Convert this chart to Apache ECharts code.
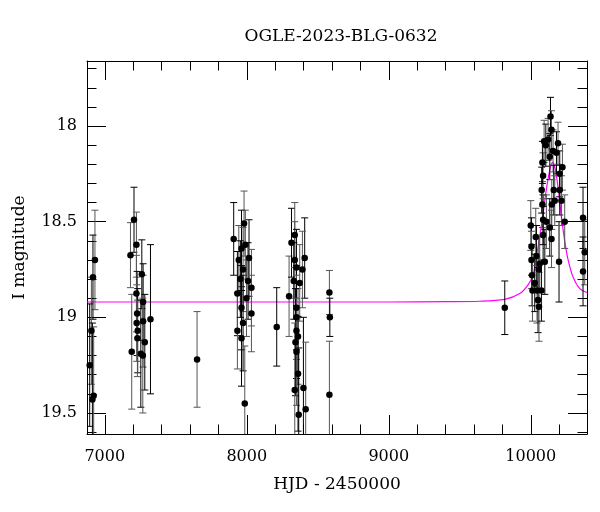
<!DOCTYPE html>
<html>
<head>
<meta charset="utf-8">
<script src="https://cdn.jsdelivr.net/npm/echarts@6/dist/echarts.min.js"></script>
<style>html,body{margin:0;padding:0;background:#fff;}#c{width:600px;height:512px;}</style>
</head>
<body>
<div id="c"></div>
<script>
// ---- data ----
const titleText = 'OGLE-2023-BLG-0632';
const xName = 'HJD - 2450000';
const yName = 'I magnitude';
const xMajor = [7000, 8000, 9000, 10000];
const xMinor = [7000,7200,7400,7600,7800,8000,8200,8400,8600,8800,9000,9200,9400,9600,9800,10000,10200];
const yMajor = [18, 18.5, 19, 19.5];
const yMinor = [17.7,17.8,17.9,18,18.1,18.2,18.3,18.4,18.5,18.6,18.7,18.8,18.9,19,19.1,19.2,19.3,19.4,19.5,19.6];

const hjd = [
  6931,6917,6906,6894,6922,6913,
  7181,7206,7223,7261,7223,7228,7225,7232,7230,7270,7270,7282,7190,7254,7268,7322,7650,
  7908,7981,7963,7944,8016,7974,8009,8033,7934,7998,7963,8033,7974,7934,7963,7986,7955,7990,
  8211,
  8298,8315,8338,8408,8338,8350,8392,8331,8373,8350,8350,8350,8361,8343,8350,8361,8338,8399,8415,8366,
  8582,8585,8582,
  9817,
  10000,10005,10005,10009,10012,10028,10035,10040,10044,10051,10058,10075,10063,10087,10082,10077,10087,10082,10094,10106,10122,10139,10146,10134,10157,10162,10148,10134,10146,10099,10169,10181,10192,10204,10223,10199,10239,10204,10216,10368,10380,10368,10110,10087,10056
];
const mag = [
  18.70,18.79,19.07,19.25,19.41,19.43,
  18.675,18.49,18.62,18.775,18.876,18.98,19.03,19.07,19.11,18.92,19.02,19.13,19.18,19.19,19.20,19.01,19.22,
  18.59,18.51,18.64,18.70,18.69,18.75,18.81,18.845,18.876,18.90,18.95,18.98,19.03,19.07,19.11,19.45,18.80,18.62,
  19.05,
  18.89,18.61,18.57,18.69,18.70,18.74,18.75,18.81,18.82,18.95,19.00,19.07,19.10,19.13,19.18,19.295,19.38,19.37,19.48,19.51,
  18.87,19.00,19.405,
  18.95,
  18.52,18.63,18.70,18.78,18.86,18.82,18.58,18.68,18.86,18.91,18.945,18.86,18.72,18.49,18.41,18.335,18.26,18.19,18.08,18.10,18.07,17.95,18.02,18.16,18.13,18.335,18.41,18.53,18.59,18.71,18.39,18.14,18.09,18.25,18.215,18.71,18.50,18.335,18.39,18.48,18.66,18.76,18.50,18.57,18.75
];
const err = [
  0.26,0.22,0.28,0.32,0.36,0.40,
  0.17,0.17,0.17,0.18,0.20,0.22,0.20,0.22,0.20,0.20,0.24,0.25,0.30,0.28,0.30,0.39,0.25,
  0.19,0.17,0.20,0.18,0.20,0.22,0.20,0.20,0.22,0.20,0.22,0.20,0.25,0.20,0.25,0.30,0.20,0.18,
  0.205,
  0.21,0.18,0.17,0.21,0.20,0.20,0.20,0.20,0.20,0.22,0.22,0.25,0.25,0.28,0.28,0.30,0.35,0.37,0.35,0.35,
  0.115,0.10,0.28,
  0.14,
  0.13,0.15,0.15,0.16,0.16,0.15,0.15,0.16,0.17,0.17,0.18,0.16,0.15,0.13,0.12,0.12,0.12,0.11,0.11,0.11,0.11,0.10,0.10,0.12,0.11,0.13,0.13,0.15,0.15,0.17,0.13,0.11,0.11,0.12,0.12,0.21,0.14,0.13,0.13,0.16,0.17,0.18,0.14,0.15,0.17
];

const modelX = [6875,7500,8000,8500,9000,9400,9641,9817,9923,9981,10016,10040,10063,10087,10110,10134,10153,10171,10192,10216,10239,10263,10298,10345,10396];
const modelY = [18.92,18.92,18.92,18.92,18.92,18.918,18.916,18.906,18.876,18.83,18.78,18.68,18.58,18.457,18.33,18.23,18.19,18.22,18.32,18.475,18.60,18.70,18.79,18.85,18.87];

// ---- chart ----
const X_MIN = 6875, X_MAX = 10396, Y_MIN = 17.66, Y_MAX = 19.61;
const FONT = 'DejaVu Serif';
const points = hjd.map((x, i) => [x, mag[i], err[i]]);
const model = modelX.map((x, i) => [x, modelY[i]]);

function xAxisDef(pos, vals, len, showLabel, showLine, name) {
  return {
    type: 'value', position: pos, min: X_MIN, max: X_MAX,
    name: name || '', nameLocation: 'middle', nameGap: 42,
    nameTextStyle: {fontFamily: FONT, fontSize: 17, color: '#000'},
    axisLine: {show: showLine, onZero: false, lineStyle: {color: '#000', width: 1}},
    axisTick: {show: true, inside: true, length: len, customValues: vals, lineStyle: {color: '#000', width: 1}},
    axisLabel: {show: showLabel, customValues: vals, formatter: v => String(v),
      fontFamily: FONT, fontSize: 16, color: '#000', margin: 15},
    splitLine: {show: false}
  };
}
function yAxisDef(pos, vals, len, showLabel, showLine, name) {
  return {
    type: 'value', position: pos, min: Y_MIN, max: Y_MAX, inverse: true,
    name: name || '', nameLocation: 'middle', nameGap: 59, nameRotate: 90,
    nameTextStyle: {fontFamily: FONT, fontSize: 17, color: '#000'},
    axisLine: {show: showLine, onZero: false, lineStyle: {color: '#000', width: 1}},
    axisTick: {show: true, inside: true, length: len, customValues: vals, lineStyle: {color: '#000', width: 1}},
    axisLabel: {show: showLabel, customValues: vals, formatter: v => String(v),
      fontFamily: FONT, fontSize: 16, color: '#000', margin: 10},
    splitLine: {show: false}
  };
}

const chart = echarts.init(document.getElementById('c'), null, {renderer: 'canvas'});
chart.setOption({
  animation: false,
  backgroundColor: '#fff',
  title: {
    text: titleText, left: 336, top: 23, textAlign: 'center',
    textStyle: {fontFamily: FONT, fontSize: 17, fontWeight: 'normal', color: '#000'}
  },
  grid: {left: 87, right: 13, top: 61, bottom: 78, containLabel: false},
  xAxis: [
    xAxisDef('bottom', xMajor, 19, true, true, xName),
    xAxisDef('bottom', xMinor, 9.5, false, false),
    xAxisDef('top', xMajor, 19, false, true),
    xAxisDef('top', xMinor, 9.5, false, false)
  ],
  yAxis: [
    yAxisDef('left', yMajor, 19, true, true, yName),
    yAxisDef('left', yMinor, 9.5, false, false),
    yAxisDef('right', yMajor, 19, false, true),
    yAxisDef('right', yMinor, 9.5, false, false)
  ],
  series: [
    {
      type: 'line', data: model, xAxisIndex: 0, yAxisIndex: 0,
      showSymbol: false, smooth: 0.3, z: 2,
      lineStyle: {color: '#ff00ff', width: 1.2}
    },
    {
      type: 'custom', data: points, xAxisIndex: 0, yAxisIndex: 0, clip: true, z: 3,
      renderItem: function (params, api) {
        const x = api.value(0), y = api.value(1), e = api.value(2);
        const a = api.coord([x, y - e]);
        const b = api.coord([x, y + e]);
        const hw = 3.5;
        const col = params.dataIndex % 2 ? '#000' : '#555';
        const st = {stroke: col, lineWidth: 1};
        return {type: 'group', children: [
          {type: 'line', shape: {x1: a[0], y1: a[1], x2: b[0], y2: b[1]}, style: st},
          {type: 'line', shape: {x1: a[0] - hw, y1: a[1], x2: a[0] + hw, y2: a[1]}, style: st},
          {type: 'line', shape: {x1: b[0] - hw, y1: b[1], x2: b[0] + hw, y2: b[1]}, style: st}
        ]};
      }
    },
    {
      type: 'scatter', data: points.map(p => [p[0], p[1]]), xAxisIndex: 0, yAxisIndex: 0, z: 4,
      symbol: 'circle', symbolSize: 6.5, itemStyle: {color: '#000', opacity: 1}
    }
  ]
});
</script>
</body>
</html>
